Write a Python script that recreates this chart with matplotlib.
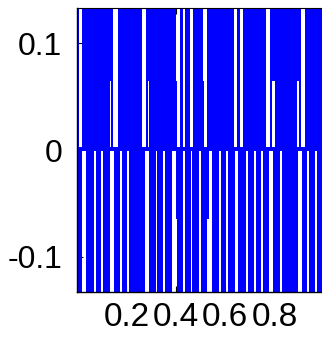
import numpy as np
import matplotlib.pyplot as plt

# ------------------ DATA ------------------

x_range = (0.0, 1.0)
level = 0.133          # signal swing, +/-
mid = 0.065            # intermediate level
zero_band = (-0.0012, 0.0028)

# upper half: intervals where the trace never goes above zero
upper_full_gaps = [(0.008, 0.021), (0.147, 0.167), (0.262, 0.278), (0.406, 0.416),
                   (0.431, 0.438), (0.459, 0.468), (0.516, 0.528), (0.636, 0.647),
                   (0.658, 0.674), (0.765, 0.781), (0.907, 0.924)]
# upper half: trace only between mid and top
upper_low_gaps = [(0.132, 0.138), (0.286, 0.291), (0.791, 0.800), (0.889, 0.898)]
# upper half: trace only between zero and mid
upper_top_gaps = [(0.399, 0.406), (0.512, 0.516)]

# lower half: intervals where the trace never goes below zero
lower_full_gaps = [(0.020, 0.038), (0.069, 0.077), (0.097, 0.106), (0.134, 0.151),
                   (0.176, 0.183), (0.204, 0.212), (0.275, 0.292), (0.318, 0.324),
                   (0.350, 0.358), (0.383, 0.399), (0.430, 0.438), (0.460, 0.467),
                   (0.492, 0.501), (0.534, 0.548), (0.575, 0.582), (0.604, 0.613),
                   (0.638, 0.653), (0.684, 0.692), (0.717, 0.725), (0.745, 0.754),
                   (0.779, 0.795), (0.820, 0.828), (0.893, 0.909), (0.933, 0.941),
                   (0.964, 0.972)]
# lower half: trace only between zero and -mid
lower_out_gaps = [(0.399, 0.405), (0.526, 0.534)]

x_ticks = [0.2, 0.4, 0.6, 0.8]
x_tick_labels = ['0.2', '0.4', '0.6', '0.8']
y_ticks = [-0.1, 0, 0.1]
y_tick_labels = ['-0.1', '0', '0.1']

blue = '#0000ff'

# ------------------ HELPERS ------------------

def complement(gaps, x0, x1):
    # (start, width) pieces of [x0, x1] not covered by gaps
    out = []
    cur = x0
    for s, e in sorted(gaps):
        if s > cur:
            out.append((cur, s - cur))
        cur = max(cur, e)
    if cur < x1:
        out.append((cur, x1 - cur))
    return out

def widths(gaps):
    return [(s, e - s) for s, e in gaps]

# ------------------ PLOT ------------------

plt.rcParams['font.family'] = ['Liberation Sans', 'DejaVu Sans']
plt.rcParams['axes.unicode_minus'] = False

fig = plt.figure(figsize=(3.22, 3.44), dpi=100)
ax = fig.add_axes([77/322, 52/344, 247/322, 284/344])

kw = dict(facecolor=blue, edgecolor='none', linewidth=0)

# upper half
ax.broken_barh(complement(upper_full_gaps + upper_low_gaps + upper_top_gaps, *x_range),
               (0, level), **kw)
ax.broken_barh(widths(upper_low_gaps), (mid, level - mid), **kw)
ax.broken_barh(widths(upper_top_gaps), (0, mid), **kw)

# lower half
ax.broken_barh(complement(lower_full_gaps + lower_out_gaps, *x_range),
               (-level, level), **kw)
ax.broken_barh(widths(lower_out_gaps), (-mid, mid), **kw)

# trace resting at zero
ax.broken_barh([(x_range[0], x_range[1] - x_range[0])],
               (zero_band[0], zero_band[1] - zero_band[0]), **kw)

ax.set_xlim(*x_range)
ax.set_ylim(-level, level)
ax.set_xticks(x_ticks)
ax.set_xticklabels(x_tick_labels)
ax.set_yticks(y_ticks)
ax.set_yticklabels(y_tick_labels)
ax.set_axisbelow(True)

ax.tick_params(direction='in', length=4, width=0.8, top=True, right=False,
               colors='black')
ax.tick_params(axis='x', pad=7, labelsize=24)
ax.tick_params(axis='y', pad=10.5, labelsize=23)
for sp in ax.spines.values():
    sp.set_linewidth(1.0)
    sp.set_color('black')
ax.spines['top'].set_linewidth(0.8)
ax.spines['right'].set_visible(False)

fig.savefig('out.png', dpi=100)
